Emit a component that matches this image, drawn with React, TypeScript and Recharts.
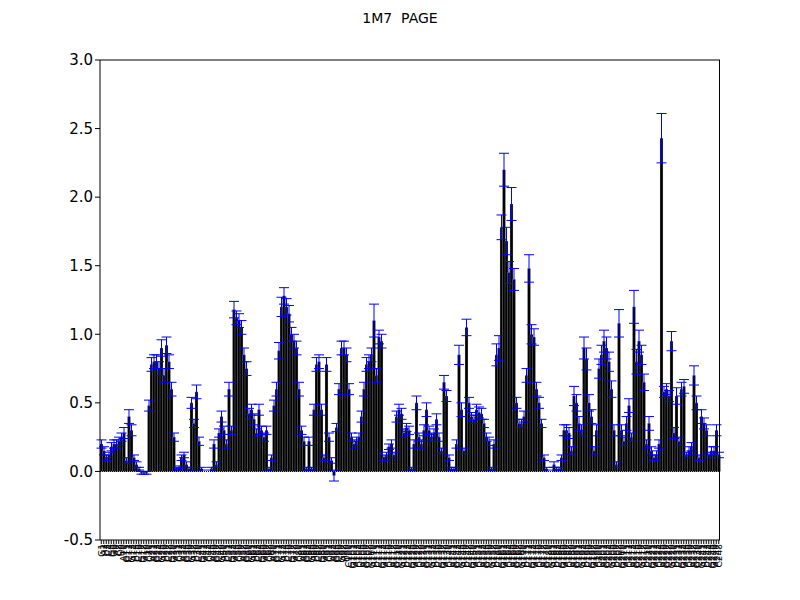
import { Bar, BarChart, ErrorBar, XAxis, YAxis, ReferenceLine } from "recharts"

const values = [
  0.2, 0.15, 0.1, 0.12, 0.18, 0.2, 0.2, 0.22, 0.25, 0.28, 0.08, 0.4, 0.3, 0.1,
  0.05, 0.02, -0.01, -0.01, -0.01, 0.48, 0.78, 0.8, 0.8, 0.75, 0.9, 0.7, 0.92, 0.8,
  0.6, 0.25, 0.02, 0.03, 0.1, 0.12, 0.05, 0.02, 0.5, 0.35, 0.58, 0.22,
  0.02, 0, 0, 0, 0.02, 0.2, 0.05, 0.28, 0.4, 0.3, 0.2, 0.6, 0.3,
  1.18, 1.12, 1.1, 1.05, 0.85, 0.75, 0.42, 0.45, 0.38, 0.28, 0.45, 0.3, 0.25, 0.3,
  0.02, 0.1, 0.48, 0.6, 0.88, 1.2, 1.28, 1.2, 1.15, 1.0, 0.95, 0.9, 0.6, 0.3, 0.22,
  0.02, 0.22, 0.02, 0.45, 0.78, 0.8, 0.45, 0.1, 0.78, 0.25, 0.08, -0.03,
  0.32, 0.6, 0.9, 0.9, 0.85, 0.6, 0.25, 0.2, 0.22, 0.25,
  0.4, 0.6, 0.78, 0.8, 0.85, 1.1, 0.7, 0.98, 0.95, 0.1, 0.12, 0.18, 0.2, 0.12,
  0.4, 0.45, 0.42, 0.28, 0.32, 0.3, 0.02, 0.2, 0.5, 0.25,
  0.2, 0.3, 0.45, 0.3, 0.25, 0.28, 0.38, 0.25, 0.15, 0.65, 0.55, 0.1, 0.02, 0.02,
  0.2, 0.85, 0.45, 0.15, 1.05, 0.5, 0.4, 0.38, 0.45, 0.43, 0.42, 0.35, 0.25, 0.22,
  0.02, 0.2, 0.85, 0.9, 1.78, 2.2, 1.68, 1.45, 1.95, 1.4, 0.5, 0.35, 0.35, 0.4,
  0.7, 1.48, 1.0, 0.98, 0.6, 0.5, 0.35, 0.1, 0.02, 0, 0, 0.05, 0.02, 0.02,
  0.1, 0.3, 0.3, 0.28, 0.15, 0.55, 0.5, 0.35, 0.3, 0.9, 0.82, 0.5,
  0.4, 0.15, 0.3, 0.75, 0.85, 0.95, 0.9, 0.8, 0.6, 0.3, 0.05, 1.08, 0.3,
  0.22, 0.35, 0.48, 0.25, 1.2, 0.8, 0.95, 0.85, 0.65, 0.2, 0.35, 0.15, 0.1, 0.12, 0.2,
  2.43, 0.58, 0.6, 0.55, 0.95, 0.28, 0.55, 0.22, 0.6, 0.62,
  0.12, 0.15, 0.18, 0.7, 0.5, 0.1, 0.4, 0.35, 0.3, 0.12, 0.15, 0.15, 0.3, 0.12,
]

const errors = [
  0.03, 0.03, 0.02, 0.02, 0.03, 0.03, 0.03, 0.03, 0.03, 0.04, 0.02, 0.05, 0.04, 0.02,
  0.02, 0.01, 0.01, 0.01, 0.01, 0.04, 0.05, 0.05, 0.05, 0.05, 0.06, 0.05, 0.06, 0.05,
  0.05, 0.03, 0.01, 0.01, 0.02, 0.02, 0.02, 0.01, 0.04, 0.03, 0.05, 0.03,
  0.01, 0.01, 0.01, 0.01, 0.01, 0.03, 0.02, 0.03, 0.04, 0.03, 0.03, 0.05, 0.03,
  0.06, 0.05, 0.05, 0.05, 0.05, 0.05, 0.04, 0.04, 0.04, 0.03, 0.04, 0.03, 0.03, 0.03,
  0.01, 0.02, 0.04, 0.05, 0.06, 0.07, 0.06, 0.06, 0.06, 0.05, 0.05, 0.05, 0.05, 0.03, 0.03,
  0.01, 0.03, 0.01, 0.04, 0.05, 0.05, 0.04, 0.02, 0.05, 0.03, 0.02, 0.04,
  0.03, 0.04, 0.05, 0.05, 0.05, 0.04, 0.03, 0.03, 0.03, 0.03,
  0.04, 0.05, 0.05, 0.05, 0.05, 0.12, 0.05, 0.05, 0.05, 0.02, 0.02, 0.02, 0.03, 0.02,
  0.04, 0.04, 0.04, 0.03, 0.03, 0.03, 0.01, 0.03, 0.05, 0.03,
  0.03, 0.04, 0.05, 0.03, 0.03, 0.03, 0.04, 0.03, 0.02, 0.05, 0.04, 0.02, 0.01, 0.01,
  0.03, 0.07, 0.05, 0.02, 0.06, 0.04, 0.03, 0.03, 0.04, 0.04, 0.04, 0.03, 0.03, 0.03,
  0.01, 0.03, 0.08, 0.09, 0.09, 0.12, 0.1, 0.08, 0.12, 0.08, 0.04, 0.03, 0.03, 0.04,
  0.05, 0.1, 0.07, 0.06, 0.05, 0.04, 0.03, 0.02, 0.01, 0.01, 0.01, 0.02, 0.01, 0.01,
  0.02, 0.04, 0.04, 0.04, 0.03, 0.07, 0.06, 0.05, 0.04, 0.08, 0.08, 0.06,
  0.05, 0.03, 0.04, 0.07, 0.07, 0.08, 0.08, 0.07, 0.06, 0.04, 0.02, 0.1, 0.04,
  0.03, 0.05, 0.05, 0.03, 0.12, 0.09, 0.08, 0.07, 0.06, 0.03, 0.05, 0.03, 0.02, 0.03, 0.03,
  0.18, 0.04, 0.04, 0.04, 0.07, 0.04, 0.06, 0.03, 0.05, 0.05,
  0.02, 0.03, 0.03, 0.07, 0.05, 0.02, 0.05, 0.04, 0.04, 0.02, 0.03, 0.03, 0.04, 0.02,
]

const seqLetters = ["G", "A", "U", "C", "G", "G", "A", "C", "U", "A", "G", "C"]
const yTicks = [-0.5, 0, 0.5, 1, 1.5, 2, 2.5, 3]

const data = values.map((v, i) => ({
  name: `${seqLetters[i % seqLetters.length]}${i + 1}`,
  value: v,
  err: errors[i] ?? 0.03,
}))

export default function App() {
  return (
    <div style={{ position: "absolute", left: 0, top: 0, width: 800, height: 600, background: "#fff", fontFamily: "DejaVu Sans" }}>
      <div style={{ position: "absolute", top: 10, width: 800, textAlign: "center", fontSize: 14 }}>1M7&nbsp;&nbsp;PAGE</div>
      <BarChart
        width={800}
        height={600}
        data={data}
        barCategoryGap={0}
        margin={{ top: 60, right: 80, bottom: 0, left: 40 }}
      >
        <XAxis
          dataKey="name"
          interval={0}
          height={60}
          tickSize={4}
          axisLine={{ stroke: "#000" }}
          tickLine={{ stroke: "#000" }}
          tick={{ fontSize: 9, fill: "#000", angle: -90, textAnchor: "end", dy: -2, dx: -3 }}
        />
        <YAxis
          width={60}
          domain={[-0.5, 3]}
          ticks={yTicks}
          tickFormatter={(v: number) => v.toFixed(1)}
          tickSize={5}
          axisLine={{ stroke: "#000" }}
          tickLine={{ stroke: "#000" }}
          tick={{ fontSize: 15, fill: "#000" }}
          allowDataOverflow
        />
        <ReferenceLine y={0} stroke="#000" strokeDasharray="1 1" />
        <ReferenceLine y={3} stroke="#000" />
        <Bar dataKey="value" fill="#000" stroke="#ccc" strokeWidth={0.3} isAnimationActive={false}>
          <ErrorBar dataKey="err" width={5} stroke="#0000ff" strokeWidth={1} direction="y" />
        </Bar>
      </BarChart>
      <div style={{ position: "absolute", left: 719, top: 60, width: 1, height: 480, background: "#000" }} />
    </div>
  )
}
